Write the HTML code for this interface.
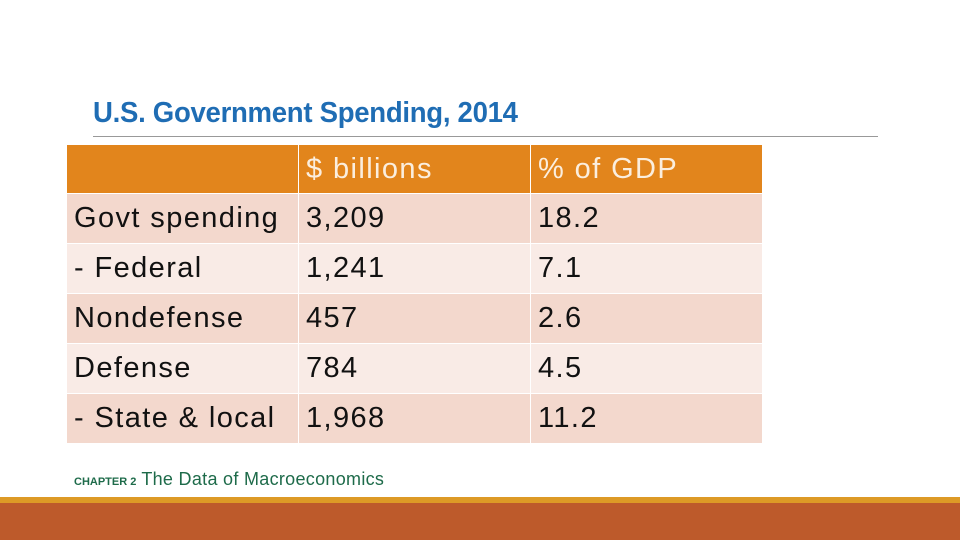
<!DOCTYPE html>
<html><head><meta charset="utf-8"><style>
body{margin:0;width:960px;height:540px;background:#fff;position:relative;overflow:hidden;font-family:"Liberation Sans",sans-serif}
#title{position:absolute;left:93px;top:97px;font-size:29px;font-weight:bold;color:#1f6db4;letter-spacing:-0.3px;transform:scaleX(0.95);transform-origin:left top;white-space:nowrap}
#rule{position:absolute;left:93px;top:136px;width:785px;height:1px;background:#999}
table{position:absolute;left:66px;top:144px;border-collapse:collapse;table-layout:fixed}
td{height:49px;padding:0 0 0 7px;font-size:29px;letter-spacing:1.4px;color:#111;border:1px solid #fff;vertical-align:middle;white-space:nowrap;overflow:hidden}
tr.h td{background:#e2851c;color:#fbeede;height:48px}
tr.a td{background:#f3d8cd}
tr.b td{background:#f9ebe6}
#footer{position:absolute;left:74px;top:469px;color:#1e6b4a;font-size:18px;letter-spacing:0.3px}
#footer b{font-size:11px;letter-spacing:0}
#gold{position:absolute;left:0;top:497px;width:960px;height:6px;background:#dd9a26}
#band{position:absolute;left:0;top:503px;width:960px;height:37px;background:#bd5a2b}
</style></head><body>
<div id="title">U.S. Government Spending, 2014</div>
<div id="rule"></div>
<table>
<colgroup><col style="width:232px"><col style="width:232px"><col style="width:232px"></colgroup>
<tr class="h"><td></td><td>$ billions</td><td>% of GDP</td></tr>
<tr class="a"><td>Govt spending</td><td>3,209</td><td>18.2</td></tr>
<tr class="b"><td>- Federal</td><td>1,241</td><td>7.1</td></tr>
<tr class="a"><td>Nondefense</td><td>457</td><td>2.6</td></tr>
<tr class="b"><td>Defense</td><td>784</td><td>4.5</td></tr>
<tr class="a"><td>- State &amp; local</td><td>1,968</td><td>11.2</td></tr>
</table>
<div id="footer"><b>CHAPTER 2</b> The Data of Macroeconomics</div>
<div id="gold"></div>
<div id="band"></div>
</body></html>
